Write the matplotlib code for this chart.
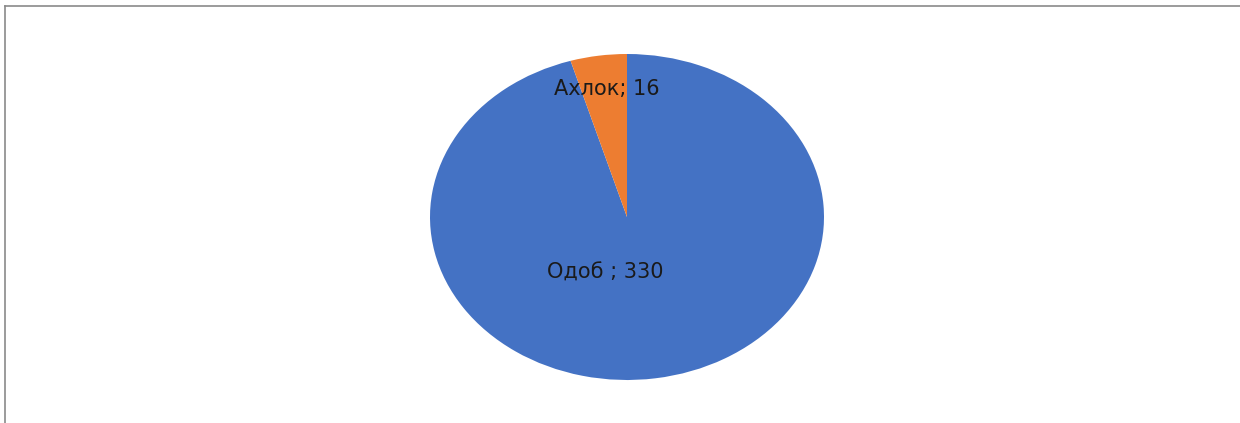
import matplotlib
matplotlib.use("Agg")
import matplotlib.pyplot as plt
from matplotlib.lines import Line2D

# Data
categories = ["Одоб ", "Ахлок"]
values = [330, 16]
colors = ["#4472C4", "#ED7D31"]

W, H = 1240, 423
fig = plt.figure(figsize=(W / 100, H / 100), dpi=100)
fig.patch.set_facecolor("white")

# Pie occupies an elliptical area (stretched horizontally)
cx, cy, rx, ry = 627, 217, 197, 163
ax = fig.add_axes([(cx - rx) / W, (H - cy - ry) / H, 2 * rx / W, 2 * ry / H])
wedges, _ = ax.pie(values, colors=colors, startangle=90, counterclock=False,
                   wedgeprops=dict(linewidth=0))
ax.set_aspect("auto")
ax.set_xlim(-1, 1)
ax.set_ylim(-1, 1)
ax.axis("off")

label_pos = [(-0.11, -0.34), (-0.10, 0.785)]
for name, val, (x, y) in zip(categories, values, label_pos):
    ax.text(x, y, f"{name}; {val}", ha="center", va="center",
            fontsize=15, color="#1a1a1a", family=["DejaVu Sans"])

# Frame lines (top and left)
fig.add_artist(Line2D([5 / W, 1], [1 - 6 / H, 1 - 6 / H], transform=fig.transFigure,
                      color="#8a8a8a", linewidth=1.2))
fig.add_artist(Line2D([5 / W, 5 / W], [0, 1 - 6 / H], transform=fig.transFigure,
                      color="#8a8a8a", linewidth=1.2))

fig.savefig("out.png", dpi=100, facecolor="white")
